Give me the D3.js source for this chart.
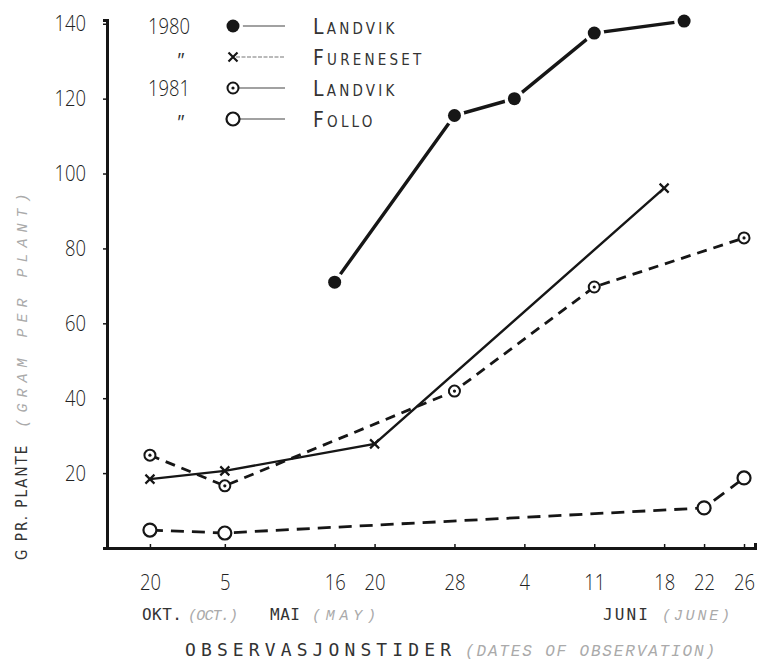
<!DOCTYPE html>
<html>
<head>
<meta charset="utf-8">
<script src="https://cdn.jsdelivr.net/npm/d3@7"></script>
<style>
  body { margin: 0; background: #fff; }
</style>
</head>
<body>
<div id="graph"></div>
<script>
const margin = {top: 20, right: 11, bottom: 118, left: 107};
const width = 766 - margin.left - margin.right;
const height = 666 - margin.top - margin.bottom;

// days counted from 5 May, 20 Oct sits left of the break
const tickDays = [-7.5, 0, 11, 15, 23, 30, 37, 44, 48, 52]
const tickLabels = ["20", "5", "16", "20", "28", "4", "11", "18", "22", "26"]
const yTicks = [20, 40, 60, 80, 100, 120, 140]

const landvik80Days = [11, 23, 29, 37, 46]
const landvik80 = [71, 115.5, 120, 137.5, 140.7]

const furenesetDays = [-7.5, 0, 15, 44]
const fureneset = [18.4, 20.6, 27.8, 96.1]

const landvik81Days = [-7.5, 0, 23, 37, 52]
const landvik81 = [24.8, 16.6, 41.9, 69.7, 82.8]

const folloDays = [-7.5, 0, 48, 52]
const follo = [4.8, 4.0, 10.7, 18.7]

const legendYears = ["1980", "\"", "1981", "\""]
const legendNames = ["LANDVIK", "FURENESET", "LANDVIK", "FOLLO"]
const legendMarks = ["dot", "cross", "target", "ring"]

const numFont = "'Open Sans', Roboto, 'DejaVu Sans Condensed', sans-serif"
const capFont = "'DejaVu Sans Condensed', 'DejaVu Sans', sans-serif"
const typeFont = "'DejaVu Sans Mono', monospace"
const monoItalic = "'Liberation Mono', 'DejaVu Sans Mono', monospace"
const ink = '#161616'

const toPoints = (days, vals) => days.map((d, i) => ({day: d, value: vals[i]}))

const series = [
  {name: 'landvik81', pts: toPoints(landvik81Days, landvik81), mark: 'target', dash: '10,7', w: 2.8},
  {name: 'follo', pts: toPoints(folloDays, follo), mark: 'ring', dash: '13,8', w: 2.8},
  {name: 'fureneset', pts: toPoints(furenesetDays, fureneset), mark: 'cross', dash: null, w: 2.4},
  {name: 'landvik80', pts: toPoints(landvik80Days, landvik80), mark: 'dot', dash: null, w: 3.4}
]

// thin condensed digits like the typed original
const digits = sel => sel
  .attr('font-family', numFont)
  .attr('font-weight', 300)
  .attr('font-size', 22)
  .attr('fill', '#222')
  .attr('textLength', function () { return this.textContent.length * 10.5 })
  .attr('lengthAdjust', 'spacingAndGlyphs')

const root = d3.select("#graph")
  .append("svg")
  .attr("width", width + margin.left + margin.right)
  .attr("height", height + margin.top + margin.bottom)

root.append('rect').attr('width', 766).attr('height', 666).attr('fill', '#fff')

const svg = root.append("g")
  .attr("transform", "translate(" + margin.left + "," + margin.top + ")")

// scales
const x = d3.scaleLinear()
  .domain([-11.8, 53.1])
  .range([0, width])

const y = d3.scaleLinear()
  .domain([0, 141])
  .range([height, 0])

// x axis
const xAxis = svg.append("g")
  .attr("transform", "translate(0," + height + ")")
  .call(d3.axisBottom(x)
    .tickValues(tickDays)
    .tickFormat((d, i) => tickLabels[i])
    .tickSize(-4)
    .tickSizeOuter(-5)
    .tickPadding(26))

xAxis.select('.domain').attr('stroke', ink).attr('stroke-width', 3)
xAxis.selectAll('.tick line').attr('stroke', ink).attr('stroke-width', 1.5)
xAxis.selectAll('.tick text').call(digits)

// y axis
const yAxis = svg.append("g")
  .call(d3.axisLeft(y)
    .tickValues(yTicks)
    .tickSize(4)
    .tickSizeOuter(4)
    .tickPadding(17))

yAxis.select('.domain').attr('stroke', ink).attr('stroke-width', 3)
yAxis.selectAll('.tick line').attr('stroke', ink).attr('stroke-width', 1.5)
yAxis.selectAll('.tick text').call(digits)

// markers
const drawMark = (g, type, cx, cy) => {
  if (type === 'dot') {
    g.append('circle').attr('cx', cx).attr('cy', cy).attr('r', 10).attr('fill', '#fff')
    g.append('circle').attr('cx', cx).attr('cy', cy).attr('r', 6.5).attr('fill', ink)
  } else if (type === 'target') {
    g.append('circle').attr('cx', cx).attr('cy', cy).attr('r', 5.5)
      .attr('fill', '#fff').attr('stroke', ink).attr('stroke-width', 2)
    g.append('circle').attr('cx', cx).attr('cy', cy).attr('r', 1.6).attr('fill', ink)
  } else if (type === 'ring') {
    g.append('circle').attr('cx', cx).attr('cy', cy).attr('r', 6.5)
      .attr('fill', '#fff').attr('stroke', ink).attr('stroke-width', 2.2)
  } else {
    const s = 4.5
    g.append('path')
      .attr('d', `M${cx - s},${cy - s}L${cx + s},${cy + s}M${cx - s},${cy + s}L${cx + s},${cy - s}`)
      .attr('stroke', ink).attr('stroke-width', 2.2).attr('fill', 'none')
  }
}

const line = d3.line()
  .x(d => x(d.day))
  .y(d => y(d.value))

series.forEach(s => {
  svg.append('path')
    .datum(s.pts)
    .attr('d', line)
    .style('fill', 'none')
    .style('stroke', ink)
    .style('stroke-width', s.w + 'px')
    .style('stroke-dasharray', s.dash)
})

series.forEach(s => {
  const g = svg.append('g').attr('class', s.name)
  s.pts.forEach(d => drawMark(g, s.mark, x(d.day), y(d.value)))
})

// legend
const legend = root.append('g').attr('class', 'legend')

legendYears.forEach((yr, i) => {
  const ly = 26 + i * 31
  if (yr.length > 1) {
    legend.append('text')
      .attr('x', 148)
      .attr('y', ly)
      .attr('dy', '0.36em')
      .text(yr)
      .call(digits)
  } else {
    legend.append('text')
      .attr('x', 176)
      .attr('y', ly + 10)
      .attr('font-family', numFont)
      .attr('font-size', 20)
      .attr('font-style', 'italic')
      .attr('fill', '#333')
      .text(yr)
  }

  legend.append('line')
    .attr('x1', 236).attr('x2', 285)
    .attr('y1', ly).attr('y2', ly)
    .attr('stroke', i === 1 ? '#777' : '#444')
    .attr('stroke-width', 1.2)
    .attr('stroke-dasharray', i === 1 ? '4,1.5' : null)

  drawMark(legend, legendMarks[i], 233, ly)

  const name = legend.append('text')
    .attr('x', 313)
    .attr('y', ly + 8)
    .attr('font-family', capFont)
    .attr('fill', '#333')
    .attr('letter-spacing', 3.2)
  name.append('tspan').attr('font-size', 21).text(legendNames[i][0])
  name.append('tspan').attr('font-size', 15).text(legendNames[i].slice(1))
})

// y axis label
const yLabel = root.append('text')
  .attr('transform', 'translate(27,560) rotate(-90)')
  .attr('font-size', 15)

yLabel.append('tspan')
  .attr('font-family', capFont)
  .attr('fill', '#333')
  .attr('letter-spacing', 2)
  .text('G PR.  PLANTE')

yLabel.append('tspan')
  .attr('dx', 16)
  .attr('font-family', monoItalic)
  .attr('font-style', 'italic')
  .attr('fill', '#aaa')
  .attr('letter-spacing', 6)
  .text('(GRAM PER PLANT)')

// month names under the ticks
const monthRow = [
  {t: 'OKT.', x: 142, w: 40, it: false},
  {t: '(OCT.)', x: 188, w: 50, it: true},
  {t: 'MAI', x: 270, w: 30, it: false},
  {t: '(MAY)', x: 312, w: 64, it: true},
  {t: 'JUNI', x: 603, w: 45, it: false},
  {t: '(JUNE)', x: 662, w: 68, it: true}
]

monthRow.forEach(m => {
  root.append('text')
    .attr('x', m.x)
    .attr('y', 620)
    .attr('font-family', m.it ? monoItalic : typeFont)
    .attr('font-style', m.it ? 'italic' : 'normal')
    .attr('font-size', m.it ? 15 : 16)
    .attr('fill', m.it ? '#aaa' : '#333')
    .attr('textLength', m.w)
    .attr('lengthAdjust', 'spacing')
    .text(m.t)
})

// x axis title
root.append('text')
  .attr('x', 185).attr('y', 656)
  .attr('font-family', typeFont)
  .attr('font-size', 18)
  .attr('fill', '#333')
  .attr('textLength', 266)
  .attr('lengthAdjust', 'spacing')
  .text('OBSERVASJONSTIDER')

root.append('text')
  .attr('x', 465).attr('y', 656)
  .attr('font-family', monoItalic)
  .attr('font-style', 'italic')
  .attr('font-size', 16)
  .attr('fill', '#aaa')
  .attr('textLength', 250)
  .attr('lengthAdjust', 'spacing')
  .text('(DATES OF OBSERVATION)')
</script>
</body>
</html>
